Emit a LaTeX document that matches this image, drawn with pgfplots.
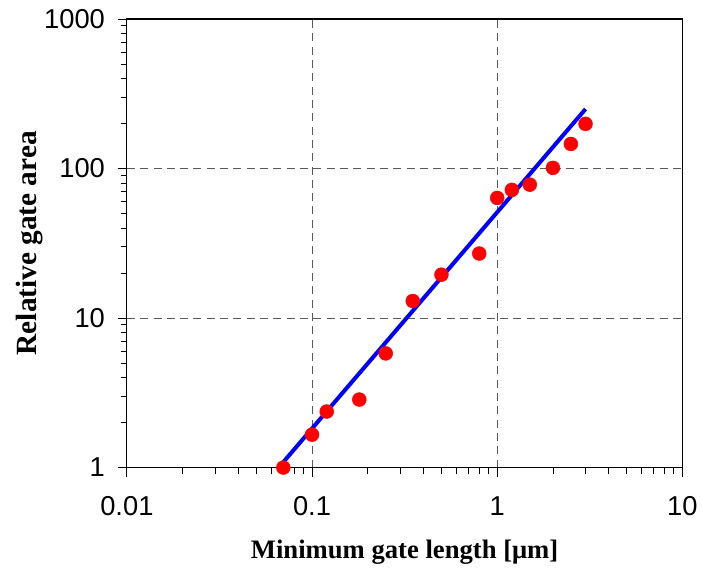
\documentclass[border=0pt]{standalone}
\usepackage{fontspec}
\setmainfont{Liberation Serif}
\newfontfamily\arial{Liberation Sans}
\usepackage{pgfplots}
\pgfplotsset{compat=1.18}
\begin{document}
\begin{tikzpicture}
\begin{loglogaxis}[
  scale only axis,
  width=417pt, height=336.75pt,
  xmin=0.01, xmax=10, ymin=1, ymax=1000,
  xtick={0.01,0.1,1,10}, xticklabels={0.01,0.1,1,10},
  ytick={1,10,100,1000}, yticklabels={1,10,100,1000},
  tick pos=left,
  tick align=outside,
  major tick length=7pt,
  minor tick length=4.5pt,
  every tick/.style={black, line width=0.6pt},
  axis line style={black, line width=0.8pt},
  grid=major,
  major grid style={dash pattern=on 6pt off 4pt, black!65, line width=0.6pt},
  tick label style={font=\arial\fontsize{20.5}{20.5}\selectfont},
  xticklabel style={yshift=-11pt},
  yticklabel style={xshift=-6pt},
  label style={font=\bfseries\fontsize{20}{20}\selectfont},
  xlabel={Minimum gate length [μm]},
  ylabel={Relative gate area},
  xlabel style={at={(rel axis cs:0.5,0)}, anchor=center, yshift=-63.75pt},
  ylabel style={at={(rel axis cs:0,0.5)}, anchor=center, rotate=0, yshift=72.75pt,
    font=\bfseries\fontsize{22}{22}\selectfont},
  clip=false,
]
\addplot[blue, line width=3pt, no markers] coordinates {(0.066,1) (3,250)};
\addplot[only marks, mark=*, mark size=5.2pt, mark options={fill=red, draw=red}] coordinates {
(0.07,1) (0.1,1.66) (0.12,2.37) (0.18,2.85) (0.25,5.8) (0.35,13) (0.5,19.5)
(0.8,27) (1.0,63.6) (1.2,72) (1.5,78) (2,101) (2.5,146) (3,199)
};
\end{loglogaxis}
\path[use as bounding box] (-95.25pt,-77.25pt) rectangle (431.25pt,351pt);
\end{tikzpicture}
\end{document}
